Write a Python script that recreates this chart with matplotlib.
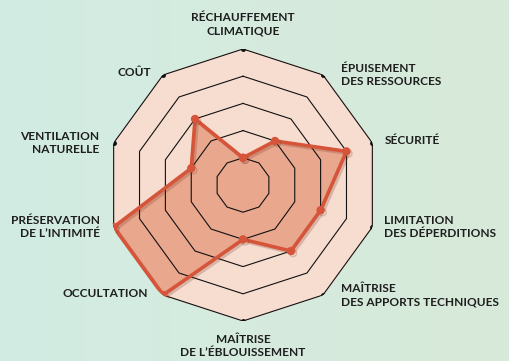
import numpy as np
import matplotlib.pyplot as plt
import matplotlib.patheffects as pe
from matplotlib.colors import LinearSegmentedColormap

# Critères (sens horaire depuis le haut) et notes sur 5
criteres = [
    "RÉCHAUFFEMENT\nCLIMATIQUE",
    "ÉPUISEMENT\nDES RESSOURCES",
    "SÉCURITÉ",
    "LIMITATION\nDES DÉPERDITIONS",
    "MAÎTRISE\nDES APPORTS TECHNIQUES",
    "MAÎTRISE\nDE L’ÉBLOUISSEMENT",
    "OCCULTATION",
    "PRÉSERVATION\nDE L’INTIMITÉ",
    "VENTILATION\nNATURELLE",
    "COÛT",
]
notes = [1, 2, 4, 3, 3, 2, 5, 5, 2, 3]
niveaux = [1, 2, 3, 4, 5]

# placement des libellés : (décalage x, décalage y en pixels, alignement)
placement = [
    (0, 25, "center"), (18, 0, "left"), (12, 2, "left"), (12, 0, "left"),
    (18, 0, "left"), (0, -25, "center"), (-15, 2, "right"), (-14, 0, "right"),
    (-14, 0, "right"), (-12, 2, "right"),
]

n = len(criteres)
angles = np.linspace(0, 2 * np.pi, n, endpoint=False)
ang_ferme = np.append(angles, angles[0])

fig = plt.figure(figsize=(5.10, 3.61), dpi=100)

# fond dégradé
bg = fig.add_axes([0, 0, 1, 1])
cmap = LinearSegmentedColormap.from_list("fond", ["#d2ece3", "#d8ead9"])
bg.imshow(np.linspace(0, 1, 256)[None, :], aspect="auto", cmap=cmap,
          extent=[0, 1, 0, 1])
bg.axis("off")

# axe polaire centré en (243, 185) px, rayon 136 px
W, H = 510, 361
cx, cy, R = 243, 185, 136
ax = fig.add_axes([(cx - R) / W, (H - cy - R) / H, 2 * R / W, 2 * R / H],
                  projection="polar")
ax.set_theta_offset(np.pi / 2)
ax.set_theta_direction(-1)
ax.set_ylim(0, 5)
ax.patch.set_alpha(0)
ax.grid(False)
ax.spines["polar"].set_visible(False)
ax.set_xticks([])
ax.set_yticks([])

# décagone de fond
ax.fill(ang_ferme, [5] * (n + 1), color="#f7ddd0", zorder=1)

# série (remplissage)
vals = np.append(notes, notes[0])
ax.fill(ang_ferme, vals, color="#e9a78e", zorder=2)

# anneaux par-dessus le remplissage
for lv in niveaux:
    ax.plot(ang_ferme, [lv] * (n + 1), color="#111111", lw=0.8, zorder=3)
ax.plot(angles, [5] * n, "o", color="#111111", ms=2.5, zorder=3)

# contour de la série
ax.plot(ang_ferme, vals, color="#d6553a", lw=2.6, marker="o", ms=5,
        solid_joinstyle="miter", zorder=4,
        path_effects=[pe.SimpleLineShadow(offset=(1.5, -1.5), shadow_color="#7a3a2a", alpha=0.25),
                      pe.Normal()])

# libellés
for a, lab, (dx, dy, ha) in zip(angles, criteres, placement):
    ax.annotate(lab, xy=(a, 5), xytext=(dx, dy), textcoords="offset pixels",
                ha=ha, va="center", fontsize=8.6, fontweight="bold",
                family="Lato", color="#1e1e1e", linespacing=1.25,
                annotation_clip=False)

plt.savefig("out.png", dpi=100)
